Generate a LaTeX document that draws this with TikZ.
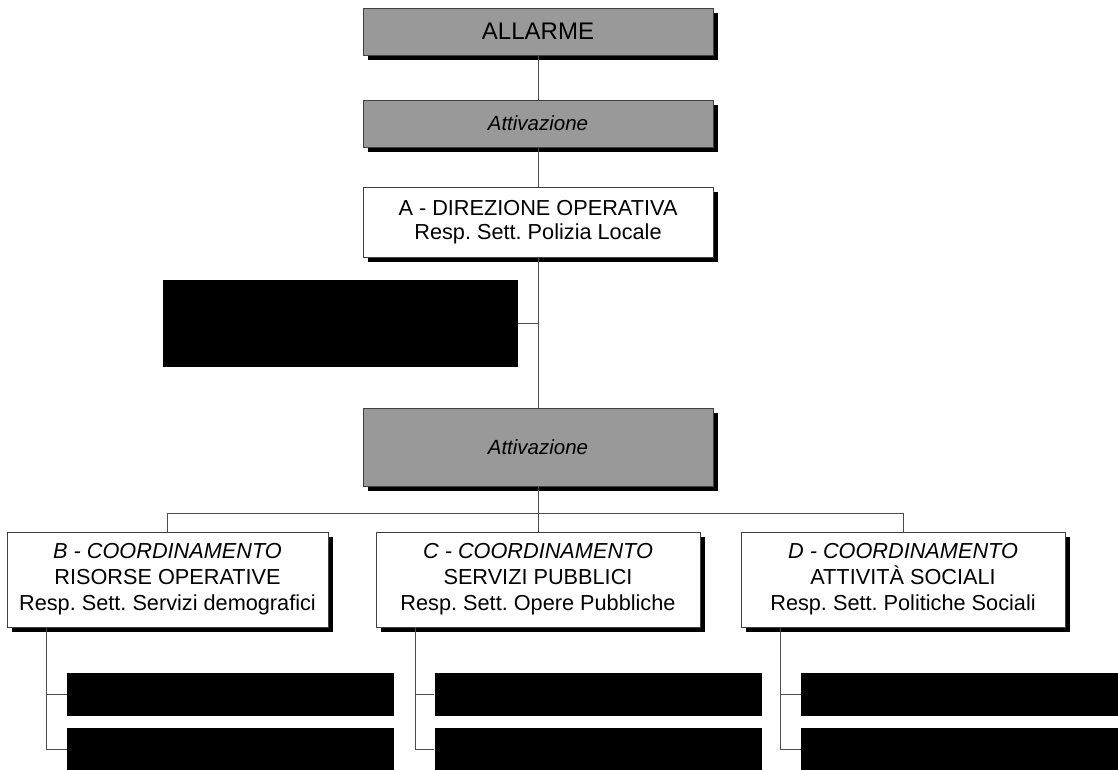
\documentclass[tikz,border=0pt]{standalone}
\usepackage{fontspec}
\setmainfont{Liberation Sans}
\usetikzlibrary{shadows}
\frenchspacing
\begin{document}
\begin{tikzpicture}[x=1pt,y=-1pt,
  every node/.style={font=\fontsize{21.7}{26}\selectfont, inner sep=0pt, align=center},
  shad/.style={drop shadow={shadow xshift=5pt,shadow yshift=-4.5pt,fill=black,opacity=1}},
  graybox/.style={draw=black!75, line width=0.8pt, fill=black!40, shad, minimum width=350pt},
  whitebox/.style={draw=black!75, line width=0.8pt, fill=white, shad},
  blackbox/.style={fill=black, minimum width=327pt, minimum height=43pt},
  conn/.style={draw=black!70, line width=0.8pt}]
\useasboundingbox (0,0) rectangle (1118,769);
\clip (0,0) rectangle (1118,769);
% top chain
\node[graybox, minimum height=47pt, font=\fontsize{24}{28}\selectfont] (allarme) at (538,31.5) {ALLARME};
\node[graybox, minimum height=47pt, font=\fontsize{20.5}{24}\selectfont\itshape] (att1) at (538,123.5) {Attivazione};
\node[whitebox, minimum width=350pt, minimum height=70pt, font=\fontsize{21.7}{24}\selectfont] (dir) at (538,222) {A - DIREZIONE OPERATIVA\\Resp. Sett. Polizia Locale};
\node[fill=black, minimum width=355pt, minimum height=87pt] (blk) at (340.5,323.5) {};
\node[graybox, minimum height=78pt, font=\fontsize{20.5}{24}\selectfont\itshape] (att2) at (538,447) {Attivazione};
\coordinate (bus) at (538,513);
% coordination boxes
\node[whitebox, minimum width=321pt, minimum height=95pt] (B) at (167.5,579.5) {\textit{B - COORDINAMENTO}\\RISORSE OPERATIVE\\Resp. Sett. Servizi demografici};
\node[whitebox, minimum width=324pt, minimum height=95pt] (C) at (538,579.5) {\textit{C - COORDINAMENTO}\\SERVIZI PUBBLICI\\Resp. Sett. Opere Pubbliche};
\node[whitebox, minimum width=324pt, minimum height=95pt] (D) at (903,579.5) {\textit{D - COORDINAMENTO}\\ATTIVITÀ SOCIALI\\Resp. Sett. Politiche Sociali};
% redacted sub-boxes
\node[blackbox] (B1) at (230.5,694.5) {};
\node[blackbox] (B2) at (230.5,749.5) {};
\node[blackbox] (C1) at (598,694.5) {};
\node[blackbox] (C2) at (598,749.5) {};
\node[blackbox] (D1) at (964.5,694.5) {};
\node[blackbox] (D2) at (964.5,749.5) {};
\coordinate (tB) at ([xshift=40pt]B.south west);
\coordinate (tC) at ([xshift=40pt]C.south west);
\coordinate (tD) at ([xshift=40pt]D.south west);
% connectors
\draw[conn] (allarme.south) -- (att1.north);
\draw[conn] (att1.south) -- (dir.north);
\draw[conn] (dir.south) -- (att2.north);
\draw[conn] (blk.east) -- (blk.east -| dir.south);
\draw[conn] (att2.south) -- (C.north);
\draw[conn] (B.north) |- (bus) -| (D.north);
\draw[conn] (tB) |- (B1.west);
\draw[conn] (tB) |- (B2.west);
\draw[conn] (tC) |- (C1.west);
\draw[conn] (tC) |- (C2.west);
\draw[conn] (tD) |- (D1.west);
\draw[conn] (tD) |- (D2.west);
\end{tikzpicture}
\end{document}
